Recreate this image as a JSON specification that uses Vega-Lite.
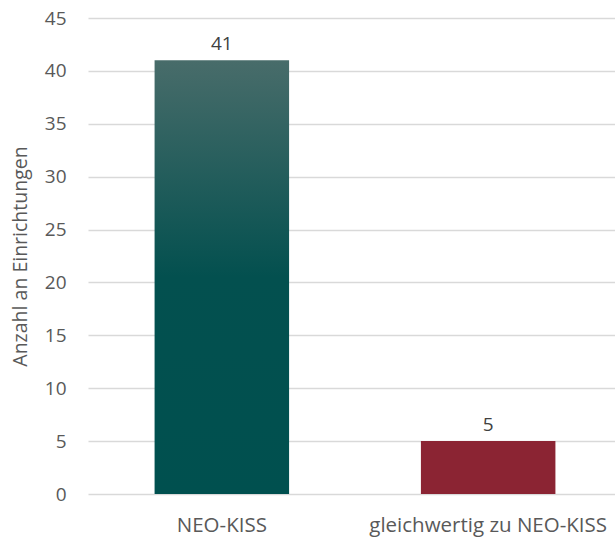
{
  "$schema": "https://vega.github.io/schema/vega-lite/v6.json",
  "width": 534,
  "height": 476,
  "autosize": "none",
  "padding": {"left": 88, "top": 18, "right": 0, "bottom": 45},
  "background": "white",
  "config": {
    "view": {"stroke": null},
    "font": "Open Sans",
    "axis": {"labelFont": "Open Sans", "titleFont": "Open Sans", "labelColor": "#595959", "titleColor": "#595959", "labelFontSize": 19, "titleFontSize": 19.5, "titleFontWeight": "normal"}
  },
  "data": {"values": [
    {"kategorie": "NEO-KISS", "anzahl": 41},
    {"kategorie": "gleichwertig zu NEO-KISS", "anzahl": 5}
  ]},
  "encoding": {
    "x": {"field": "kategorie", "type": "nominal", "sort": null,
      "scale": {"paddingInner": 0.495, "paddingOuter": 0.25},
      "axis": {"title": null, "labelAngle": 0, "ticks": false, "domain": false, "labelPadding": 21, "labelFontSize": 20.5, "grid": false, "labelOverlap": false, "labelLimit": 0}},
    "y": {"field": "anzahl", "type": "quantitative",
      "scale": {"domain": [0, 45], "nice": false},
      "axis": {"title": "Anzahl an Einrichtungen", "values": [0,5,10,15,20,25,30,35,40,45], "ticks": false, "domain": false, "gridColor": "#d9d9d9", "gridWidth": 1.3, "labelPadding": 22, "titlePadding": 14}}
  },
  "layer": [
    {
      "mark": {"type": "bar"},
      "encoding": {
        "color": {
          "condition": {"test": "datum.kategorie === 'NEO-KISS'", "value": {"x1": 0, "y1": 0, "x2": 0, "y2": 1, "gradient": "linear", "stops": [{"offset": 0, "color": "#486c6a"}, {"offset": 0.5, "color": "#03504f"}, {"offset": 1, "color": "#00504f"}]}},
          "value": "#8b2433"
        }
      }
    },
    {
      "mark": {"type": "text", "baseline": "bottom", "dy": -6, "fontSize": 19, "color": "#404040", "font": "Open Sans"},
      "encoding": {"text": {"field": "anzahl", "type": "quantitative"}}
    }
  ]
}
